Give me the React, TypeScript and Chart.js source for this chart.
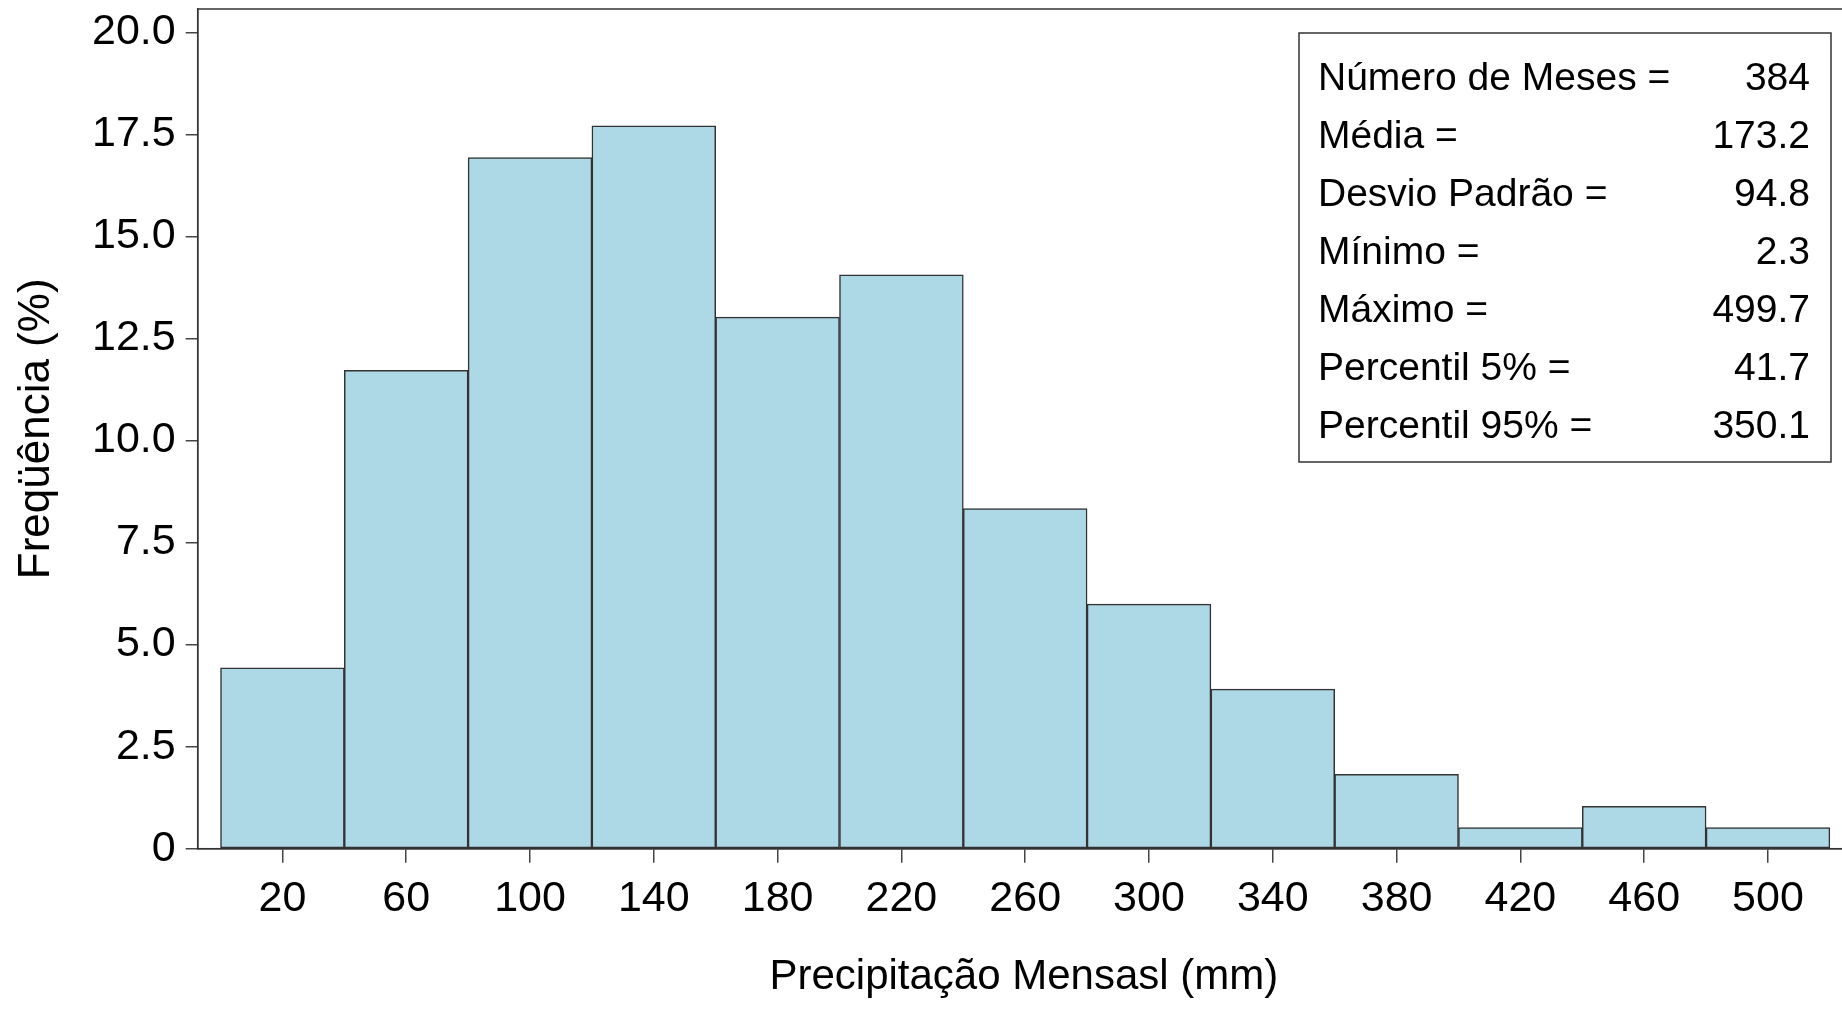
import React, { useEffect, useRef } from 'react';
import { Chart, registerables } from 'chart.js';

Chart.register(...registerables);

// Histogram bins (centres, width 40 mm) and relative frequency (%)
const BIN_CENTERS = [20, 60, 100, 140, 180, 220, 260, 300, 340, 380, 420, 460, 500];
const FREQUENCY = [4.43, 11.72, 16.93, 17.71, 13.02, 14.06, 8.33, 5.99, 3.91, 1.82, 0.52, 1.04, 0.52];
const X_TICKS = [20, 60, 100, 140, 180, 220, 260, 300, 340, 380, 420, 460, 500];
const Y_TICKS = [0, 2.5, 5, 7.5, 10, 12.5, 15, 17.5, 20];
const STAT_LABELS = [
  'Número de Meses =',
  'Média =',
  'Desvio Padrão =',
  'Mínimo =',
  'Máximo =',
  'Percentil 5% =',
  'Percentil 95% =',
];
const STAT_VALUES = ['384', '173.2', '94.8', '2.3', '499.7', '41.7', '350.1'];
const X_TITLE = 'Precipitação Mensasl (mm)';
const Y_TITLE = 'Freqüência (%)';

const FONT = "'Liberation Sans', Arial, sans-serif";

const framePlugin = {
  id: 'frameAndStats',
  afterDatasetsDraw(chart: any) {
    const { ctx, chartArea: a } = chart;
    ctx.save();
    ctx.strokeStyle = '#333';
    ctx.lineWidth = 1.5;
    ctx.strokeRect(a.left, a.top, a.right - a.left, a.bottom - a.top);

    // statistics box
    const bx = 1299, by = 33, bw = 532, bh = 429;
    ctx.fillStyle = '#fff';
    ctx.fillRect(bx, by, bw, bh);
    ctx.strokeRect(bx, by, bw, bh);
    ctx.fillStyle = '#000';
    ctx.font = `39px ${FONT}`;
    ctx.textBaseline = 'alphabetic';
    STAT_LABELS.forEach((lab, i) => {
      const y = 90 + i * 58;
      ctx.textAlign = 'left';
      ctx.fillText(lab, 1318, y);
      ctx.textAlign = 'right';
      ctx.fillText(STAT_VALUES[i], 1810, y);
    });
    ctx.restore();
  },
};

export default function App() {
  const ref = useRef<HTMLCanvasElement | null>(null);

  useEffect(() => {
    if (!ref.current) return;
    const chart = new Chart(ref.current, {
      type: 'bar',
      data: {
        datasets: [
          {
            data: BIN_CENTERS.map((x, i) => ({ x, y: FREQUENCY[i] })),
            backgroundColor: '#ADD8E6',
            borderColor: '#333',
            borderWidth: 1.5,
            borderSkipped: false,
            barPercentage: 1,
            categoryPercentage: 1,
          },
        ],
      },
      options: {
        animation: false,
        responsive: false,
        maintainAspectRatio: false,
        layout: { padding: { top: 9, left: 0, right: 0, bottom: 0 } },
        plugins: {
          legend: { display: false },
          tooltip: { enabled: false },
        },
        scales: {
          x: {
            type: 'linear',
            min: -7.37,
            max: 526.5,
            offset: false,
            afterBuildTicks: (s: any) => {
              s.ticks = X_TICKS.map((v) => ({ value: v }));
            },
            afterFit: (s: any) => {
              s.height = 161.3;
              s.paddingLeft = 0;
              s.paddingRight = 0;
            },
            grid: {
              display: true,
              drawOnChartArea: false,
              drawTicks: true,
              tickLength: 14,
              color: '#444',
              lineWidth: 1.5,
              offset: false,
            },
            border: { display: true, color: '#333', width: 1.5 },
            ticks: {
              autoSkip: false,
              maxRotation: 0,
              padding: 11,
              color: '#000',
              font: { family: FONT, size: 43 },
              callback: (v: any) => String(v),
            },
            title: {
              display: true,
              text: X_TITLE,
              color: '#000',
              font: { family: FONT, size: 42 },
              padding: { top: 0, bottom: 7 },
            },
          },
          y: {
            type: 'linear',
            min: 0,
            max: 20.57,
            afterBuildTicks: (s: any) => {
              s.ticks = Y_TICKS.map((v) => ({ value: v }));
            },
            afterFit: (s: any) => {
              s.width = 197.7;
              s.paddingTop = 0;
              s.paddingBottom = 0;
            },
            grid: {
              display: true,
              drawOnChartArea: false,
              drawTicks: true,
              tickLength: 12,
              color: '#444',
              lineWidth: 1.5,
            },
            border: { display: true, color: '#333', width: 1.5 },
            ticks: {
              autoSkip: false,
              padding: 10,
              color: '#000',
              font: { family: FONT, size: 43 },
              callback: (v: any) => (v === 0 ? '0' : Number(v).toFixed(1)),
            },
            title: {
              display: true,
              text: Y_TITLE,
              color: '#000',
              font: { family: FONT, size: 44 },
              padding: { top: 10, bottom: 0 },
            },
          },
        },
      },
      plugins: [framePlugin],
    });
    return () => chart.destroy();
  }, []);

  return (
    <div
      style={{
        position: 'fixed',
        left: 0,
        top: 0,
        width: 1842,
        height: 1010,
        overflow: 'hidden',
        background: '#fff',
      }}
    >
      <canvas ref={ref} width={1850} height={1010} style={{ display: 'block', width: 1850, height: 1010 }} />
    </div>
  );
}
